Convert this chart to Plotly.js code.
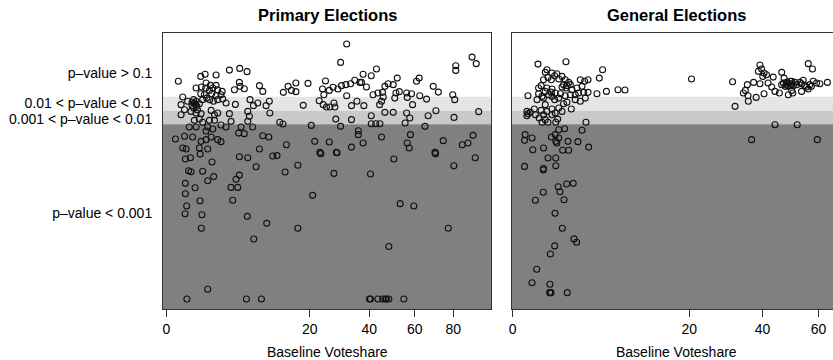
<!DOCTYPE html>
<html><head><meta charset="utf-8">
<script src="https://cdn.plot.ly/plotly-3.0.1.min.js"></script>
<style>html,body{margin:0;padding:0;background:#fff}</style>
</head><body><div id="chart" style="width:833px;height:360px"></div>
<script>
// Baseline voteshare (%) and p-value score (band edges: 1 -> p=0.1, 2 -> p=0.01, 3 -> p=0.001)
const primaryVoteshare = [
0.14,1.15,1.46,2.4,3.86,5.23,6.33,1.53,1.89,2.4,1.19,1.5,2.09,1.8,2.56,3.02,1.15,1.4,2.0,2.4,2.9,4.5,5.18,5.27,5.9,8.42,9.03,0.86,
0.26,0.44,0.21,0.64,0.82,0.72,0.94,1.06,1.28,1.58,1.83,2.15,2.56,3.09,3.46,4.63,6.8,7.36,8.12,9.66,10.3,0.59,
0.21,0.32,0.86,1.17,1.95,2.25,2.56,3.86,6.44,6.7,0.76,1.06,1.8,2.25,4.07,6.44,1.28,
0.51,0.86,1.66,1.53,2.09,3.46,5.42,7.25,2.9,0.08,0.32,0.67,1.17,1.53,1.95,2.56,2.9,5.08,5.9,9.03,10.2,0.26,0.38,1.06,1.66,8.42,
0.77,0.9,0.64,0.86,0.72,
31.6,29.5,16.3,14.4,13.3,15.2,16.3,19.5,24.6,23.7,24.1,25.8,27,28.6,29.8,31.3,33,34.5,36.4,37.6,37,38.9,40.8,42.9,41.5,43.5,31.6,
18.2,22.7,23.9,24.9,26,27.3,27.6,33.3,35.3,37.9,44.2,10.4,27.9,33.3,40.8,12.5,13.2,20.4,29.5,40.8,42.6,
35.8,35.8,25.8,21.4,14,37.6,33.3,22.9,28.1,
90.8,93.3,81.4,81.4,51.8,60.8,62.1,69.2,71.9,50,47.8,46.4,45.4,45.7,45,51.2,52.7,50.7,56.1,58.4,56.4,62.4,65.8,79.7,80.8,
58.9,46.4,50,56.1,57.6,66.6,70.6,80.4,94.8,55.4,44.3,65,57.9,45,74.5,85.1,88.4,91.4,56.4,57.3,70.1,
0.35,0.56,1.11,2.02,0.48,0.59,1.28,0.35,0.8,1.66,2.18,0.35,1.1,0.4,0.34,1.23,1.19,
5.18,6.44,4.72,5.18,4.06,4.95,4.28,7.82,11,11.9,13.7,16.8,6.36,9.79,7.42,16.8,
20.8,23.2,28.3,27.3,40.5,50.3,53.1,59.5,48.1,70.4,80.3,77.2,92.7,1.66,
0.41,6.23,8.78,40.1,40.5,43.5,45.5,46.6,47.1,48.1,54.8
];
const primaryScore = [
-0.1,-0.45,-0.6,-0.55,-0.9,-1.02,-0.79,0.02,0.19,0.19,0.31,0.38,0.38,0.55,0.5,0.62,0.79,0.86,0.79,0.93,0.86,0.5,-0.02,0.26,0.43,0.21,0.62,0.38,
1.02,1.33,1.57,1.4,1.57,1.81,1.93,1.5,1.21,1.1,1.21,1.33,1.21,1.17,1.45,1.55,1.21,1.64,1.45,1.64,1.33,2.05,
2.29,1.93,2.17,2.21,1.98,2.29,2.17,2.21,2.05,2.4,2.69,2.6,2.69,2.69,2.76,2.76,2.83,
3.17,3.17,3.17,3.45,3.31,3.17,3.17,3.17,3.02,4.02,3.83,3.88,4.19,4.07,3.88,4.07,4.21,3.6,3.64,3.79,3.88,4.67,4.74,4.67,4.74,4.74,
1.45,1.69,1.64,1.33,1.21,
-2.76,-1.45,0.02,0.26,0.69,0.55,0.64,0.05,-0.12,0.45,0.86,0.55,0.33,0.45,0.21,0.14,0.07,-0.17,-0.02,-0.6,-0.02,0.31,-0.5,-0.98,0.86,0.74,0.93,
1.62,1.29,1.57,1.74,1.74,1.45,1.74,1.64,1.33,1.64,1.57,2.17,2.6,2.64,2.36,2.83,2.95,3.05,3.12,2.93,2.93,
3.43,3.71,4.24,4.19,4.43,4.31,4.6,4.98,4.98,
-1.83,-1.36,-1.21,-0.88,-0.33,-0.1,-0.33,0.26,0.67,0.14,0.07,0.26,0.69,1.02,1.33,0.74,0.64,1.1,0.74,0.79,1.05,0.93,1.17,0.86,1.21,
1.57,2.12,2.12,2.17,2.52,2.36,2.0,2.48,2.07,2.88,2.93,3.12,3.71,3.88,4.14,4.43,4.31,3.76,4.31,4.67,4.98,
5.45,5.36,5.1,5.67,6.29,6.36,6.33,7.19,7.5,7.0,6.71,7.93,8.43,8.81,9.36,9.43,10.4,
5.29,5.36,6.9,6.6,7.48,7.48,8.4,6.0,5.24,5.21,6.38,5.9,9.55,10.05,11.17,10.4,
8.05,5.07,5.0,6.48,6.52,5.45,8.64,8.81,11.7,5.07,5.93,10.4,5.36,14.76,
15.45,15.45,15.45,15.45,15.45,15.45,15.45,15.45,15.45,15.45,15.45
];
const generalVoteshare = [
0.41,1.82,0.75,0.68,0.99,1.25,1.13,1.56,0.8,0.61,0.96,1.36,1.77,2.01,1.66,1.89,2.13,1.56,1.82,0.52,0.43,0.75,0.99,2.25,2.65,3.08,3.32,2.93,3.64,4.81,5.18,
3.64,3.23,2.79,2.51,2.13,1.77,1.46,1.16,0.96,0.68,0.43,0.55,0.83,0.99,1.36,1.13,0.61,0.38,4.55,5.63,7.11,8.08,0.15,3.38,2.93,1.89,1.66,2.51,
0.68,0.3,0.99,1.36,0.52,0.75,1.16,0.13,0.15,0.2,2.2,1.56,
0.13,0.61,0.99,1.3,0.68,0.55,0.8,1.19,3.44,0.45,0.33,
1.36,1.73,3.08,1.16,1.36,0.96,0.1,0.09,0.24,1.96,2.73,1.19,1.25,3.7,0.61,0.26,1.6,2.01,0.8,1.19,0.09,0.61,1.19,
0.6,1.33,1.87,2.35,0.6,1.43,0.33,1.69,1.15,1.58,2.41,2.62,1.13,0.91,0.37,0.24,0.89,0.89,0.89,0.94,1.91,
20.5,31,31.7,39.2,39.7,38.7,40.5,40.1,41.3,43.5,46.4,47.2,56,57.6,
35.3,37.2,34.7,34.1,35.5,35.6,38,40.5,39.2,41.8,43,44.1,45.6,48.7,50.3,47,48.1,49.3,49.9,50.5,48.7,47.6,46.4,51.1,51.7,52.9,54.1,53.5,54.7,55.4,56,56.6,57.2,57.9,59.2,60.5,63.5,53.5,49.9,
48.7,49.3,48.1,49.9,44.1,51.9,36.6,59.5
];
const generalScore = [
-1.33,-1.5,-0.93,-0.74,-0.69,-0.64,-0.5,-0.45,-0.38,-0.21,-0.21,-0.26,-0.21,-0.02,0.14,0.21,0.14,0.31,0.38,0.21,0.38,0.38,0.45,0.5,0.38,0.26,-0.1,-0.21,-0.21,-0.33,-0.93,
0.69,0.69,0.74,0.86,0.86,0.93,0.79,0.74,0.69,0.62,0.79,0.98,0.86,0.98,1.1,1.21,1.1,1.21,0.79,0.62,0.5,0.52,0.93,1.1,1.33,1.4,1.5,1.21,
1.57,1.88,1.88,1.81,1.98,2.05,2.17,2.05,2.21,2.12,1.88,2.05,
2.36,2.29,2.29,2.6,2.64,2.83,2.83,2.83,2.83,2.52,2.29,
3.36,3.29,3.4,3.71,3.95,3.88,3.71,4.12,3.95,4.19,4.21,4.19,4.31,4.6,4.67,4.79,4.83,4.83,5.38,5.38,5.98,6.14,5.93,
6.24,7.43,7.24,7.19,7.83,7.79,8.4,8.36,9.33,10.4,11.16,11.4,11.66,12.24,13.33,14.29,14.4,15.0,15.0,15.0,15.0,
-0.26,-0.07,1.69,-1.26,-0.98,-0.81,-0.69,-0.45,-0.57,-0.4,-0.74,-0.33,-1.36,-0.98,
0.14,-0.02,0.55,0.74,0.93,1.33,1.05,0.79,0.07,0.02,0.31,0.62,0.74,0.86,0.74,0.02,-0.02,-0.1,0.07,0.21,0.26,0.26,0.14,-0.02,0.14,-0.02,-0.17,0.07,0.21,0.31,0.45,0.14,0.26,-0.1,0.02,0.07,-0.02,0.62,0.55,
0.02,0.21,0.14,-0.1,3.0,3.0,4.07,4.07
];
const yTickScores = [-0.69, 1.45, 2.59, 9.31];
const yTickLabels = ['p\u2013value > 0.1', '0.01 < p\u2013value < 0.1', '0.001 < p\u2013value < 0.01', 'p\u2013value < 0.001'];
const primaryXTicks = [0, 20, 40, 60, 80];
const generalXTicks = [0, 20, 40, 60];
const bandEdges = [1, 2, 2.97, 16.19];
const bandColors = ['#e5e5e5', '#c9c9c9', '#808080'];

const FONT = 'Liberation Sans, Arial, Helvetica, sans-serif';
const sq = a => a.map(v => Math.sqrt(v));
const marker = {symbol: 'circle-open', size: 6, color: '#111', line: {width: 1.1, color: '#111'}};

const traces = [
  {x: sq(primaryVoteshare), y: primaryScore, xaxis: 'x', yaxis: 'y', mode: 'markers', type: 'scatter', marker: marker, hoverinfo: 'skip'},
  {x: sq(generalVoteshare), y: generalScore, xaxis: 'x2', yaxis: 'y2', mode: 'markers', type: 'scatter', marker: marker, hoverinfo: 'skip'}
];

const shapes = [];
[['x', 'y'], ['x2', 'y2']].forEach(([xa, ya]) => {
  for (let i = 0; i < 3; i++) {
    shapes.push({type: 'rect', xref: xa + ' domain', yref: ya, x0: 0, x1: 1,
      y0: bandEdges[i], y1: bandEdges[i + 1], fillcolor: bandColors[i], line: {width: 0}, layer: 'below'});
  }
});

const yRange = [16.19, -3.55];
const xCommon = {showgrid: false, zeroline: false, showline: true, mirror: true, linecolor: '#333', linewidth: 1,
  ticks: 'outside', ticklen: 7, tickcolor: '#333', tickfont: {size: 14, color: '#000', family: FONT}};

const layout = {
  width: 833, height: 360, margin: {l: 0, r: 0, t: 0, b: 0},
  paper_bgcolor: '#fff', plot_bgcolor: '#fff', showlegend: false,
  font: {family: FONT, color: '#000'},
  xaxis: Object.assign({}, xCommon, {domain: [163/833, 491/833], range: [-0.105, 10.12],
    tickvals: sq(primaryXTicks), ticktext: primaryXTicks.map(String)}),
  xaxis2: Object.assign({}, xCommon, {domain: [511.7/833, 1], range: [-0.025, 8.11],
    tickvals: sq(generalXTicks), ticktext: generalXTicks.map(String)}),
  yaxis: {domain: [0.1408, 0.9083], range: yRange, showgrid: false, zeroline: false, showline: true, mirror: true,
    linecolor: '#333', linewidth: 1, ticks: 'outside', ticklen: 7, tickcolor: 'rgba(0,0,0,0)',
    tickvals: yTickScores, ticktext: yTickLabels, tickfont: {size: 14, color: '#000', family: FONT}},
  yaxis2: {domain: [0.1408, 0.9083], range: yRange, anchor: 'x2', showgrid: false, zeroline: false, showline: true, mirror: false,
    linecolor: '#333', linewidth: 1, showticklabels: false, ticks: ''},
  shapes: shapes,
  annotations: [
    {text: '<b>Primary Elections</b>', xref: 'paper', yref: 'paper', x: 327/833, y: 0.9583, showarrow: false, xanchor: 'center', yanchor: 'middle', font: {size: 16.5, family: FONT, color: '#000'}},
    {text: '<b>General Elections</b>', xref: 'paper', yref: 'paper', x: 676/833, y: 0.9583, showarrow: false, xanchor: 'center', yanchor: 'middle', font: {size: 16.5, family: FONT, color: '#000'}},
    {text: 'Baseline Voteshare', xref: 'paper', yref: 'paper', x: 327/833, y: 0.0236, showarrow: false, xanchor: 'center', yanchor: 'middle', font: {size: 14, family: FONT, color: '#000'}},
    {text: 'Baseline Voteshare', xref: 'paper', yref: 'paper', x: 676/833, y: 0.0236, showarrow: false, xanchor: 'center', yanchor: 'middle', font: {size: 14, family: FONT, color: '#000'}}
  ]
};

Plotly.newPlot('chart', traces, layout, {displayModeBar: false, staticPlot: true});
</script>
</body></html>
